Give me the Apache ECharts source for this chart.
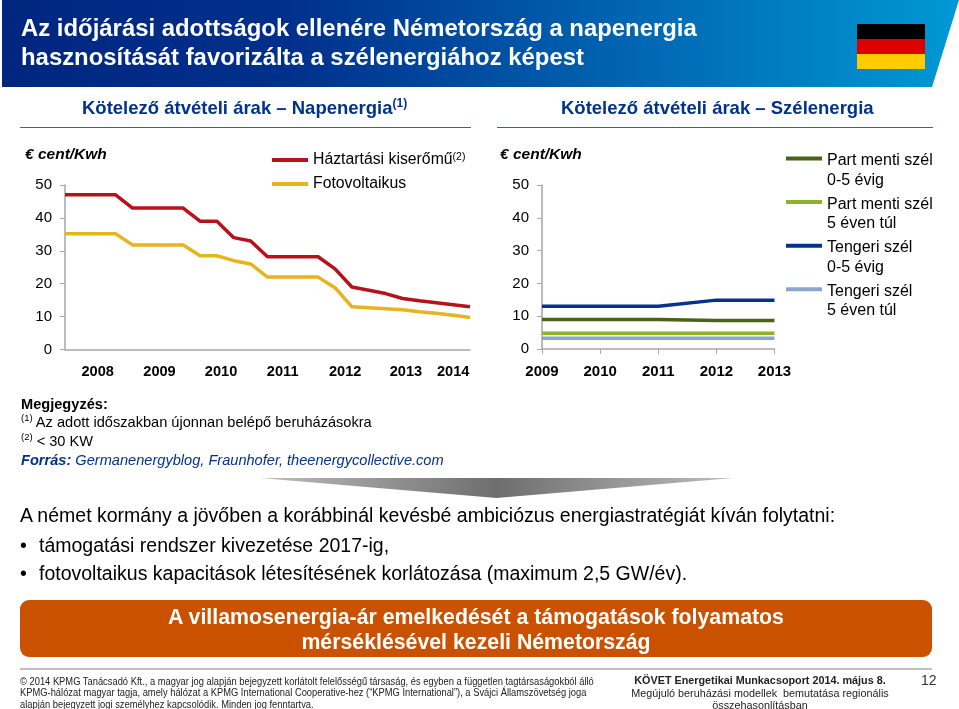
<!DOCTYPE html>
<html lang="hu">
<head>
<meta charset="utf-8">
<title>Kötelező átvételi árak</title>
<script src="https://cdn.jsdelivr.net/npm/echarts@6/dist/echarts.min.js"></script>
<style>
  html, body { margin: 0; padding: 0; background: #fff; }
  #slide { position: relative; width: 959px; height: 709px; overflow: hidden; font-family: "Liberation Sans", Arial, sans-serif; }
  #chart { position: absolute; left: 0; top: 0; width: 959px; height: 709px; }
  .t { position: absolute; white-space: nowrap; color: #000; }
  .box { position: absolute; }
  sup { font-size: 65%; line-height: 0; }
  #header { left: 2px; top: 0; width: 957px; height: 87px; background: linear-gradient(90deg, #00267f 0%, #00308c 30%, #0060ae 62%, #0098d6 100%); clip-path: polygon(0 0, 100% 0, 930px 100%, 0 100%); }
  .title { left: 21px; color: #fff; font-weight: bold; font-size: 23.9px; }
  .sub { color: #00338d; font-weight: bold; font-size: 18.5px; top: 97px; }
  .rule { height: 1px; top: 127px; background: #3a5ea8; }
  .unit { font-style: italic; font-weight: bold; font-size: 15.5px; top: 145px; }
  .note { left: 21px; font-size: 14.6px; }
  .body { font-size: 19.5px; }
  .foot { left: 20px; font-size: 10px; color: #222; transform: scaleX(.935); transform-origin: left top; }
  .foot2 { width: 300px; left: 610px; text-align: center; font-size: 10.8px; color: #222; }
</style>
</head>
<body>
<div id="slide">
  <div id="chart"></div>
  <div class="box" id="header"></div>
  <div class="t title" style="top:14px">Az időjárási adottságok ellenére Németország a napenergia</div>
  <div class="t title" style="top:43px">hasznosítását favorizálta a szélenergiához képest</div>
  <div class="box" style="left:857px;top:24px;width:68px;height:15px;background:#000"></div>
  <div class="box" style="left:857px;top:39px;width:68px;height:15px;background:#dd0000"></div>
  <div class="box" style="left:857px;top:54px;width:68px;height:15px;background:#ffcc00"></div>

  <div class="t sub" style="left:82px">Kötelező átvételi árak – Napenergia<sup>(1)</sup></div>
  <div class="t sub" style="left:561px">Kötelező átvételi árak – Szélenergia</div>
  <div class="box rule" style="left:20px;width:451px"></div>
  <div class="box rule" style="left:497px;width:436px"></div>
  <div class="t unit" style="left:25px">€ cent/Kwh</div>
  <div class="t unit" style="left:500px">€ cent/Kwh</div>

  <div class="t note" style="top:396px;font-weight:bold">Megjegyzés:</div>
  <div class="t note" style="top:414px"><sup>(1)</sup> Az adott időszakban újonnan belépő beruházásokra</div>
  <div class="t note" style="top:433px"><sup>(2)</sup> &lt; 30 KW</div>
  <div class="t note" style="top:452px;color:#00338d;font-style:italic"><b>Forrás:</b> Germanenergyblog, Fraunhofer, theenergycollective.com</div>

  <div class="box" style="left:260px;top:478px;width:473px;height:20px;background:linear-gradient(90deg,#bdbdbd,#6e6e6e 50%,#bdbdbd);clip-path:polygon(0 0,100% 0,50% 100%)"></div>

  <div class="t body" style="left:20px;top:504px">A német kormány a jövőben a korábbinál kevésbé ambiciózus energiastratégiát kíván folytatni:</div>
  <div class="t body" style="left:20px;top:534px">•</div>
  <div class="t body" style="left:39px;top:534px">támogatási rendszer kivezetése 2017-ig,</div>
  <div class="t body" style="left:20px;top:562px">•</div>
  <div class="t body" style="left:39px;top:562px">fotovoltaikus kapacitások létesítésének korlátozása (maximum 2,5 GW/év).</div>

  <div class="box" style="left:20px;top:600px;width:912px;height:57px;border-radius:9px;background:#c95100"></div>
  <div class="t" style="left:20px;width:912px;top:605px;text-align:center;color:#fff;font-weight:bold;font-size:21.3px;line-height:25px">A villamosenergia-ár emelkedését a támogatások folyamatos<br>mérséklésével kezeli Németország</div>

  <div class="box" style="left:20px;top:668px;width:912px;height:2px;background:#bfbfbf"></div>
  <div class="t foot" style="top:676px">© 2014 KPMG Tanácsadó Kft., a magyar jog alapján bejegyzett korlátolt felelősségű társaság, és egyben a független tagtársaságokból álló</div>
  <div class="t foot" style="top:687px">KPMG-hálózat magyar tagja, amely hálózat a KPMG International Cooperative-hez (“KPMG International”), a Svájci Államszövetség joga</div>
  <div class="t foot" style="top:699px">alapján bejegyzett jogi személyhez kapcsolódik. Minden jog fenntartva.</div>
  <div class="t foot2" style="top:674px;font-weight:bold">KÖVET Energetikai Munkacsoport 2014. május 8.</div>
  <div class="t foot2" style="top:687px">Megújuló beruházási modellek&nbsp; bemutatása regionális</div>
  <div class="t foot2" style="top:699px">összehasonlításban</div>
  <div class="t" style="left:921px;top:672px;font-size:14px;color:#333">12</div>
</div>

<script>
// Napenergia: a pontok negyedéves lépésekben, az évcímkék nem esnek pontra
const solarSteps = [0, 1, 2, 3, 4, 5, 6, 7, 8, 9, 10, 11, 12, 13, 14, 15, 16, 17, 18, 19, 20, 21, 22, 23, 24]
const householdValues = [47, 47, 47, 47, 43, 43, 43, 43, 39, 39, 34, 33, 28.2, 28.2, 28.2, 28.2, 24.5, 19, 18, 17, 15.5, 14.8, 14.2, 13.6, 13]
const pvValues = [35.2, 35.2, 35.2, 35.2, 31.8, 31.8, 31.8, 31.8, 28.5, 28.5, 27, 26, 22, 22, 22, 22, 18.8, 13, 12.7, 12.4, 12.1, 11.5, 11, 10.4, 9.7]
const solarYearTicks = [1.94, 5.6, 9.25, 12.9, 16.6, 20.2, 23]
const solarYearLabels = ['2008', '2009', '2010', '2011', '2012', '2013', '2014']

// Szélenergia
const windYears = ['2009', '2010', '2011', '2012', '2013']
const onshoreEarly = [9, 9, 9, 8.7, 8.7]
const onshoreLate = [4.8, 4.8, 4.8, 4.8, 4.8]
const offshoreEarly = [13, 13, 13, 14.9, 14.9]
const offshoreLate = [3.3, 3.3, 3.3, 3.3, 3.3]

const valueTicks = { min: 0, max: 50, interval: 10 }
const axisGray = '#a6a6a6'

const yAxis = (gridIndex) => ({
  type: 'value',
  gridIndex,
  ...valueTicks,
  splitLine: { show: false },
  axisLine: { show: true, lineStyle: { color: axisGray, width: 1.5 } },
  axisTick: { show: true, length: 5, lineStyle: { color: axisGray } },
  axisLabel: { color: '#000', fontSize: 15, margin: 13, padding: [2, 0, 0, 0] }
})

const lineSeries = (name, color, data, xAxisIndex) => ({
  name,
  type: 'line',
  xAxisIndex,
  yAxisIndex: xAxisIndex,
  data,
  symbol: 'none',
  silent: true,
  color,
  lineStyle: { color, width: 3.5 }
})

// Jelmagyarázat ikon: a vonal a kétsoros szöveg első sorához kerül
const topLineIcon = 'path://M0 0H36V4H0Z M0 28L0 28Z'

const option = {
  animation: false,
  textStyle: { fontFamily: '"Liberation Sans", Arial, sans-serif' },
  grid: [
    { left: 65, top: 185, width: 405, height: 164.5 },
    { left: 542, top: 185, width: 232.5, height: 164 }
  ],
  xAxis: [
    {
      type: 'value',
      gridIndex: 0,
      min: 0,
      max: 24,
      splitLine: { show: false },
      axisLine: { show: true, lineStyle: { color: axisGray, width: 1.5 } },
      axisTick: { show: false },
      axisLabel: {
        customValues: solarYearTicks,
        formatter: (v) => solarYearLabels[solarYearTicks.indexOf(v)],
        color: '#000',
        fontWeight: 'bold',
        fontSize: 14.6,
        margin: 15
      }
    },
    {
      type: 'category',
      gridIndex: 1,
      data: windYears,
      boundaryGap: false,
      axisLine: { show: true, lineStyle: { color: axisGray, width: 1.5 } },
      axisTick: { show: true, length: 5, lineStyle: { color: axisGray } },
      axisLabel: { color: '#000', fontWeight: 'bold', fontSize: 15, margin: 15, interval: 0 }
    }
  ],
  yAxis: [yAxis(0), yAxis(1)],
  legend: [
    {
      left: 267,
      top: 147,
      orient: 'vertical',
      icon: 'rect',
      itemWidth: 36,
      itemHeight: 4,
      itemGap: 8,
      data: ['Háztartási kiserőmű', 'Fotovoltaikus'],
      selectedMode: false,
      formatter: (name) => name === 'Háztartási kiserőmű' ? name + '{s|(2)}' : name,
      textStyle: {
        color: '#000',
        fontSize: 15.8,
        rich: { s: { fontSize: 10.5, verticalAlign: 'top', color: '#000' } }
      }
    },
    {
      left: 781,
      top: 146,
      orient: 'vertical',
      icon: topLineIcon,
      itemWidth: 36,
      itemHeight: 28,
      itemGap: 4.6,
      data: ['Part menti szél\n0-5 évig', 'Part menti szél\n5 éven túl', 'Tengeri szél\n0-5 évig', 'Tengeri szél\n5 éven túl'],
      selectedMode: false,
      textStyle: { color: '#000', fontSize: 16, lineHeight: 19.5 }
    }
  ],
  series: [
    lineSeries('Háztartási kiserőmű', '#b5121b', solarSteps.map((s, i) => [s, householdValues[i]]), 0),
    lineSeries('Fotovoltaikus', '#e6b41e', solarSteps.map((s, i) => [s, pvValues[i]]), 0),
    lineSeries('Part menti szél\n0-5 évig', '#4a6318', onshoreEarly, 1),
    lineSeries('Part menti szél\n5 éven túl', '#8db32a', onshoreLate, 1),
    lineSeries('Tengeri szél\n0-5 évig', '#00338d', offshoreEarly, 1),
    lineSeries('Tengeri szél\n5 éven túl', '#8aa6d0', offshoreLate, 1)
  ]
}

const chartInstance = echarts.init(document.getElementById('chart'))
chartInstance.setOption(option)
</script>
</body>
</html>
